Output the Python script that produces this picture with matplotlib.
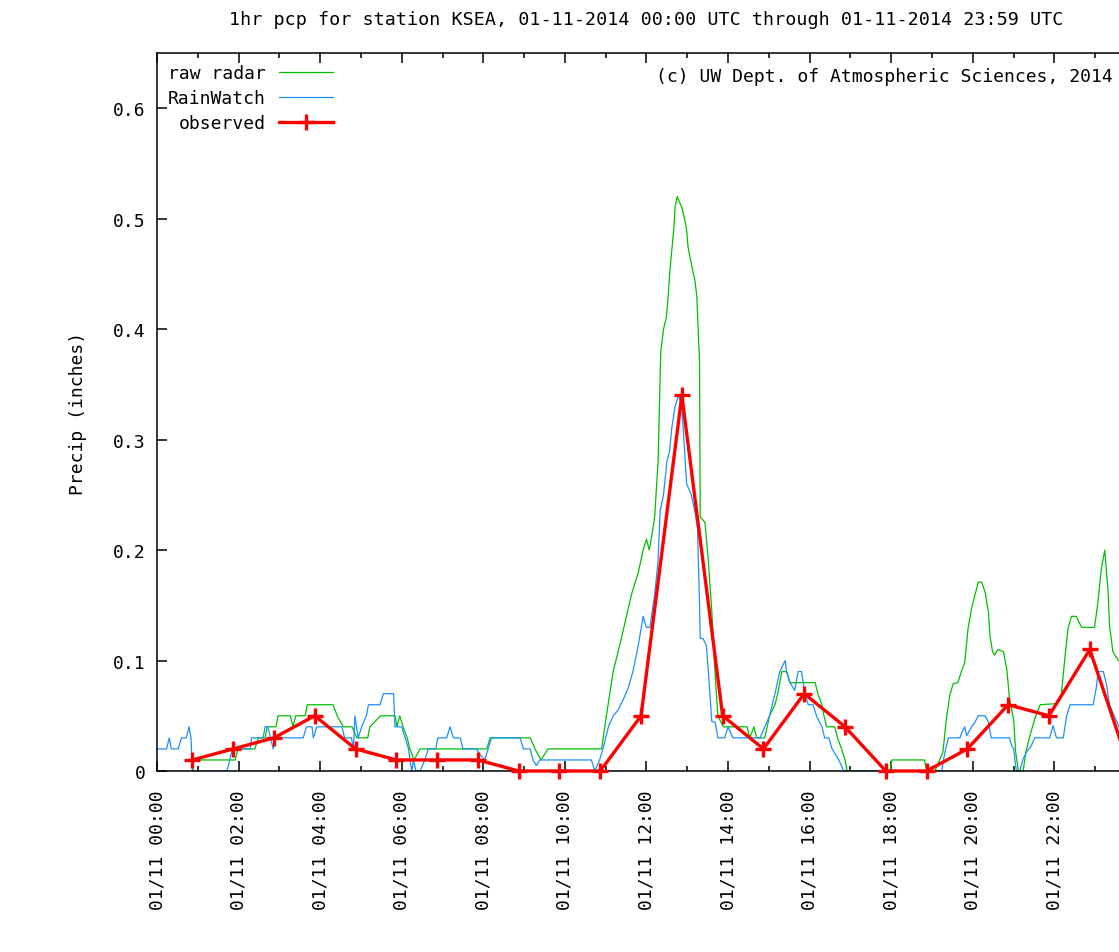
import numpy as np
import matplotlib
matplotlib.use("Agg")
import matplotlib.pyplot as plt

# ====== DATA (times in minutes after 00:00 UTC, values in inches) ======
TITLE = "1hr pcp for station KSEA, 01-11-2014 00:00 UTC through 01-11-2014 23:59 UTC"
CREDIT = "(c) UW Dept. of Atmospheric Sciences, 2014"

# raw radar (green)
radar_t = [53, 54, 115, 119, 144, 149, 159, 162, 175, 178, 196, 200, 204, 218, 221,
           259, 265, 274, 287, 294, 310, 313, 329, 350, 353, 357, 362, 368, 372, 378,
           387, 485, 490, 549, 556, 565, 575, 654, 661, 671, 683, 698, 708, 715, 720,
           724, 727, 732, 737, 739, 741, 745, 749, 752, 754, 757, 760, 762, 765, 772,
           776, 779, 781, 784, 789, 791, 794, 796, 798, 799, 806, 811, 816, 821, 825,
           833, 868, 872, 878, 882, 894, 901, 909, 913, 919, 926, 931, 968, 972, 978,
           981, 985, 997, 1001, 1007, 1012, 1015, 1078, 1081, 1129, 1132, 1144, 1156, 1161, 1166,
           1171, 1178, 1183, 1188, 1193, 1198, 1203, 1208, 1213, 1218, 1223, 1225, 1229, 1232, 1237,
           1245, 1250, 1254, 1260, 1263, 1267, 1274, 1278, 1284, 1291, 1299, 1323, 1330, 1335, 1340,
           1345, 1352, 1360, 1379, 1384, 1389, 1394, 1399, 1401, 1406, 1414, 1430]
radar_v = [0.00, 0.01, 0.01, 0.02, 0.02, 0.03, 0.03, 0.04, 0.04, 0.05, 0.05, 0.04, 0.05, 0.05, 0.06,
           0.06, 0.05, 0.04, 0.04, 0.03, 0.03, 0.04, 0.05, 0.05, 0.04, 0.05, 0.04, 0.03, 0.02, 0.01,
           0.02, 0.02, 0.03, 0.03, 0.02, 0.01, 0.02, 0.02, 0.05, 0.09, 0.12, 0.16, 0.18, 0.20, 0.21,
           0.20, 0.21, 0.23, 0.28, 0.33, 0.38, 0.40, 0.41, 0.43, 0.45, 0.47, 0.49, 0.51, 0.52, 0.51,
           0.50, 0.49, 0.475, 0.465, 0.45, 0.445, 0.43, 0.40, 0.37, 0.23, 0.225, 0.19, 0.145, 0.087, 0.05,
           0.04, 0.04, 0.03, 0.04, 0.03, 0.03, 0.05, 0.06, 0.07, 0.09, 0.09, 0.08, 0.08, 0.07, 0.06,
           0.05, 0.04, 0.04, 0.03, 0.02, 0.01, 0.00, 0.00, 0.01, 0.01, 0.00, 0.00, 0.017, 0.047, 0.068,
           0.079, 0.08, 0.09, 0.098, 0.129, 0.147, 0.159, 0.171, 0.171, 0.162, 0.144, 0.123, 0.108, 0.105, 0.11,
           0.108, 0.092, 0.065, 0.047, 0.017, 0.00, 0.00, 0.017, 0.032, 0.047, 0.06, 0.061, 0.068, 0.10, 0.129,
           0.14, 0.14, 0.13, 0.13, 0.153, 0.183, 0.20, 0.162, 0.132, 0.108, 0.10, 0.10]

# RainWatch (blue)
rw_t = [0, 14, 18, 21, 31, 36, 43, 47, 50, 52, 103, 107, 111, 137, 139,
        156, 159, 163, 171, 174, 215, 220, 228, 230, 235, 272, 276, 286, 289, 291,
        296, 301, 308, 311, 328, 333, 348, 350, 360, 365, 370, 372, 375, 377, 381,
        387, 394, 399, 410, 413, 426, 431, 436, 446, 450, 470, 475, 482, 487, 492,
        534, 539, 549, 553, 558, 563, 639, 644, 651, 656, 664, 671, 678, 686, 693,
        700, 708, 715, 720, 725, 732, 737, 740, 745, 750, 754, 757, 762, 767, 772,
        774, 779, 786, 791, 795, 798, 799, 803, 808, 811, 816, 821, 825, 835, 840,
        847, 887, 894, 901, 909, 916, 924, 926, 931, 938, 943, 948, 953, 958, 965,
        970, 978, 982, 988, 993, 1003, 1010, 1154, 1159, 1164, 1181, 1186, 1188, 1191, 1198,
        1203, 1208, 1218, 1223, 1227, 1254, 1257, 1260, 1264, 1269, 1274, 1279, 1286, 1291, 1313,
        1318, 1323, 1333, 1338, 1343, 1377, 1382, 1384, 1392, 1397, 1401, 1415, 1425]
rw_v = [0.02, 0.02, 0.03, 0.02, 0.02, 0.03, 0.03, 0.04, 0.03, 0.00, 0.00, 0.01, 0.02, 0.02, 0.03,
        0.03, 0.04, 0.04, 0.02, 0.03, 0.03, 0.04, 0.04, 0.03, 0.04, 0.04, 0.03, 0.03, 0.02, 0.05,
        0.03, 0.04, 0.05, 0.06, 0.06, 0.07, 0.07, 0.04, 0.04, 0.03, 0.02, 0.01, 0.00, 0.01, 0.00,
        0.00, 0.01, 0.02, 0.02, 0.03, 0.03, 0.04, 0.03, 0.03, 0.02, 0.02, 0.015, 0.01, 0.02, 0.03,
        0.03, 0.02, 0.02, 0.01, 0.005, 0.01, 0.01, 0.00, 0.01, 0.02, 0.04, 0.05, 0.055, 0.065, 0.075,
        0.09, 0.114, 0.14, 0.13, 0.13, 0.16, 0.19, 0.235, 0.25, 0.28, 0.29, 0.31, 0.33, 0.34, 0.33,
        0.31, 0.26, 0.25, 0.235, 0.22, 0.15, 0.12, 0.12, 0.114, 0.09, 0.045, 0.044, 0.03, 0.03, 0.04,
        0.03, 0.03, 0.04, 0.05, 0.07, 0.09, 0.10, 0.09, 0.08, 0.073, 0.09, 0.09, 0.07, 0.06, 0.06,
        0.05, 0.04, 0.03, 0.03, 0.02, 0.01, 0.00, 0.00, 0.017, 0.03, 0.03, 0.038, 0.04, 0.032, 0.04,
        0.044, 0.05, 0.05, 0.044, 0.03, 0.03, 0.023, 0.02, 0.00, 0.00, 0.011, 0.017, 0.023, 0.03, 0.03,
        0.041, 0.03, 0.03, 0.05, 0.06, 0.06, 0.077, 0.09, 0.09, 0.077, 0.06, 0.04, 0.03]

# observed hourly (red), reported at :52 past each hour
obs_t = [h * 60 + 52 for h in range(24)]
obs_v = [0.01, 0.02, 0.03, 0.05, 0.02, 0.01, 0.01, 0.01, 0.00, 0.00, 0.00, 0.05,
         0.34, 0.05, 0.02, 0.07, 0.04, 0.00, 0.00, 0.02, 0.06, 0.05, 0.11, 0.00]

x_major = list(range(0, 24, 2))
x_minor = list(range(1, 24, 2))
x_labels = [f"01/11 {h:02d}:00" for h in x_major]
y_ticks = [0.0, 0.1, 0.2, 0.3, 0.4, 0.5, 0.6]


def main():
    plt.rcParams["font.family"] = ["DejaVu Sans Mono"]
    plt.rcParams["font.size"] = 13

    W, H = 1119, 953
    fig = plt.figure(figsize=(W / 100, H / 100), dpi=100)
    # plot area runs to 24:00, which lies just past the right edge of the image
    ax = fig.add_axes([157 / W, 1 - 772 / H, (1136 - 157) / W, (772 - 54) / H])

    hr = lambda t: np.asarray(t) / 60.0

    ax.plot(hr(radar_t), radar_v, color="#00c000", lw=0.9, label="raw radar", zorder=2)
    ax.plot(hr(rw_t), rw_v, color="#1e8fff", lw=0.9, label="RainWatch", zorder=2.1)
    ax.plot(hr(obs_t), obs_v, color="#ff0000", lw=2.4, marker="+", ms=11, mew=2.4,
            label="observed", zorder=3, clip_on=False)

    ax.set_xlim(0, 24)
    ax.set_ylim(0, 0.65)

    ax.set_xticks(x_major)
    ax.set_xticklabels(x_labels, rotation=90, va="top", ha="center")
    ax.set_xticks(x_minor, minor=True)
    ax.set_yticks(y_ticks)
    ax.set_yticklabels([f"{v:g}" for v in y_ticks])

    ax.tick_params(which="both", direction="in", top=True, right=True, width=1.1)
    ax.tick_params(which="major", length=7)
    ax.tick_params(which="minor", length=3.5)
    ax.tick_params(axis="x", which="major", pad=13)
    ax.tick_params(axis="y", pad=8)
    for s in ax.spines.values():
        s.set_linewidth(1.1)

    # title centred on the 00-24h axis, which is partly off-image
    ax.set_title(TITLE, pad=21, fontsize=13.2)
    ax.set_ylabel("Precip (inches)")
    ax.yaxis.set_label_coords(-0.0715, 0.5)

    ax.annotate(CREDIT, xy=(1, 1), xycoords="axes fraction",
                xytext=(-17, -16.5), textcoords="offset points",
                ha="right", va="center")

    ax.legend(loc="upper left", bbox_to_anchor=(0, 1), borderaxespad=0.0,
              borderpad=0.62, frameon=False, markerfirst=False,
              handlelength=3.0, handletextpad=0.7, labelspacing=0.38, numpoints=1)

    fig.savefig("out.png", dpi=100)


if __name__ == "__main__":
    main()
